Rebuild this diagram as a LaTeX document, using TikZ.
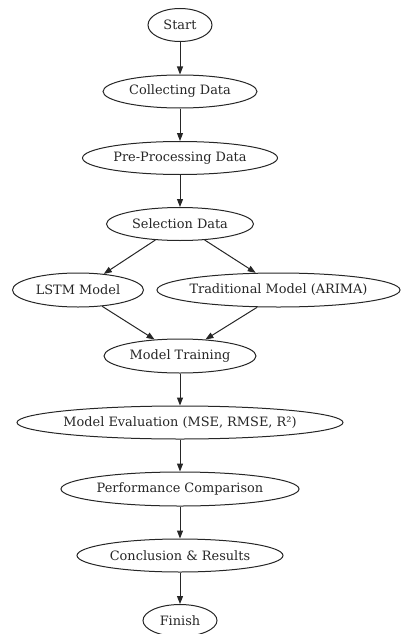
\documentclass[tikz,border=0pt]{standalone}
\usepackage{fontspec}
\setmainfont{DejaVu Serif}
\usetikzlibrary{shapes.geometric,arrows.meta}
\definecolor{ink}{HTML}{262626}
\tikzset{
  proc/.style={ellipse, draw=ink, line width=1pt, inner sep=0pt, text=ink,
    font=\fontsize{12.9}{15}\selectfont,
    execute at begin node={\hbox to 0pt\bgroup\hss},
    execute at end node={\hss\egroup}},
  flow/.style={draw=ink, line width=1pt, -{Triangle[length=8pt,width=6pt]}}
}
\begin{document}
\begin{tikzpicture}[x=1pt,y=-1pt]
\useasboundingbox (0,0) rectangle (401,634);
\node[proc, minimum width=64pt, minimum height=33pt] (start) at (180,25) {Start};
\node[proc, minimum width=154pt, minimum height=33pt] (collect) at (180,91.5) {Collecting Data};
\node[proc, minimum width=195pt, minimum height=33pt] (prep) at (180,158) {Pre-Processing Data};
\node[proc, minimum width=147pt, minimum height=33pt] (sel) at (180,224) {Selection Data};
\node[proc, minimum width=131pt, minimum height=34pt] (lstm) at (78,290) {LSTM Model};
\node[proc, minimum width=243pt, minimum height=34pt] (arima) at (278.5,290) {Traditional Model (ARIMA)};
\node[proc, minimum width=152pt, minimum height=34pt] (train) at (180,356) {Model Training};
\node[proc, minimum width=326pt, minimum height=33pt] (eval) at (180,422.5) {Model Evaluation (MSE, RMSE, R²)};
\node[proc, minimum width=238pt, minimum height=34pt] (perf) at (180,489) {Performance Comparison};
\node[proc, minimum width=206pt, minimum height=33pt] (concl) at (180,555.5) {Conclusion \& Results};
\node[proc, minimum width=74pt, minimum height=32pt] (finish) at (180,620.5) {Finish};
\draw[flow] (start) -- (collect);
\draw[flow] (collect) -- (prep);
\draw[flow] (prep) -- (sel);
\draw[flow] (sel.-147) -- (lstm.32);
\draw[flow] (sel.-33) -- (arima.143);
\draw[flow] (lstm.-34) -- (train.147);
\draw[flow] (arima.-141) -- (train.33);
\draw[flow] (train) -- (eval);
\draw[flow] (eval) -- (perf);
\draw[flow] (perf) -- (concl);
\draw[flow] (concl) -- (finish);
\end{tikzpicture}
\end{document}
